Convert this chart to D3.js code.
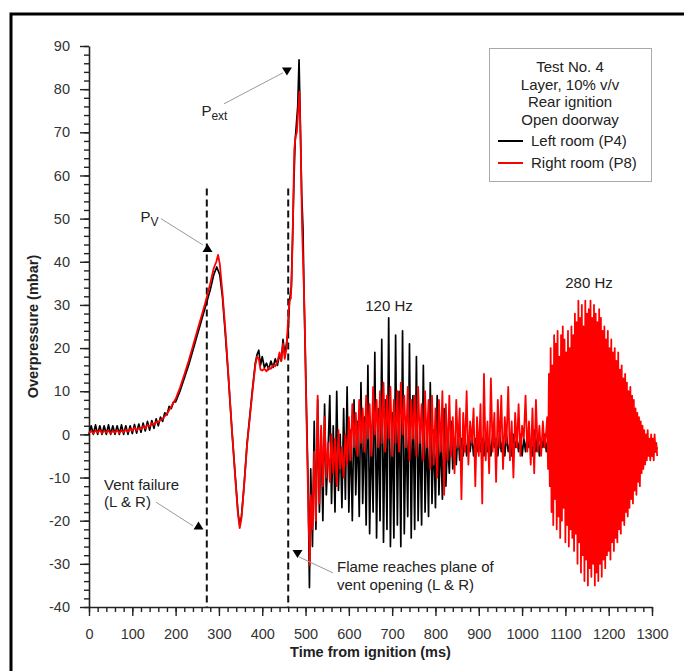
<!doctype html>
<html>
<head>
<meta charset="utf-8">
<style>
  body { margin: 0; background: #fff; }
  text { font-family: "Liberation Sans", Arial, sans-serif; fill: #222; }
  .axis path, .axis line { stroke: #222; }
  .axis text { font-size: 14.5px; fill: #333; }
</style>
<script src="https://d3js.org/d3.v7.min.js"></script>
</head>
<body>
<svg width="684" height="671"></svg>
<script>
// ---- data ----
var xTicks = [0, 100, 200, 300, 400, 500, 600, 700, 800, 900, 1000, 1100, 1200, 1300];
var yTicks = [-40, -30, -20, -10, 0, 10, 20, 30, 40, 50, 60, 70, 80, 90];

// Left room (P4), smooth part up to the first minimum
var p4Time = [0, 5, 10, 15, 20, 25, 30, 35, 40, 45, 50, 55, 60, 65, 70, 75, 80, 85, 90, 95,
  100, 105, 110, 115, 120, 125, 130, 135, 140, 145, 150, 155, 160, 165, 170, 175, 180, 185, 190, 195,
  200, 210, 220, 230, 240, 250, 260, 270, 280, 288, 295, 302, 308, 315, 322, 330, 338, 344, 348, 352,
  358, 365, 372, 378, 384, 388, 392, 396, 400, 405, 410, 415, 420, 425, 430, 435, 440, 444, 448, 452,
  456, 460, 463, 467, 470, 473, 476, 479, 482, 485, 488, 491, 494, 497, 500, 503, 506, 509];
var p4Val = [0, 2, 0, 2.2, 0, 2, 0, 2, 0, 2.2, 0, 2, 0, 2, 0, 2.2, 0, 2, 0, 2,
  0.2, 2.3, 0.3, 2.4, 0.5, 2.6, 0.8, 3, 1, 3.2, 1.4, 3.6, 2, 4, 3, 5, 4.5, 6.5, 6, 7.5,
  7.5, 10, 13, 16, 19.5, 23, 26.5, 30, 33.5, 37, 38.8, 37, 32, 23, 13, 1, -10, -18, -21, -19,
  -12, -2, 5, 11, 16.5, 18.5, 19.5, 16, 18, 15.5, 16.5, 15, 17, 15.5, 17.5, 16, 18.5, 17, 22, 18.5,
  21, 24, 31, 34, 45, 58, 68, 72, 76, 86.8, 72, 56, 48, 30, 16, 2, -12, -35.5];

// Right room (P8), smooth part up to the first minimum
var p8Time = [0, 5, 10, 15, 20, 25, 30, 35, 40, 45, 50, 55, 60, 65, 70, 75, 80, 85, 90, 95,
  100, 105, 110, 115, 120, 125, 130, 135, 140, 145, 150, 155, 160, 165, 170, 175, 180, 185, 190, 195,
  200, 210, 220, 230, 240, 250, 260, 270, 280, 288, 294, 298, 302, 308, 315, 322, 330, 338, 344, 348,
  352, 358, 365, 372, 378, 384, 388, 392, 396, 400, 405, 410, 415, 420, 425, 430, 435, 440, 444, 448,
  452, 456, 460, 463, 466, 468, 471, 474, 477, 480, 483, 486, 489, 492, 495, 498, 501, 504, 507, 510];
var p8Val = [0.3, 0.8, 0.2, 0.9, 0.4, 1, 0.3, 0.8, 0.5, 0.9, 0.2, 0.8, 0.4, 1, 0.3, 0.9, 0.5, 1.2, 0.6, 1.3,
  0.8, 1.6, 0.9, 1.5, 1.2, 1.9, 1.4, 2.2, 1.8, 2.6, 2.2, 2.9, 2.8, 3.4, 3.6, 4.2, 4.8, 5.6, 6.4, 7.4,
  8.2, 10.8, 13.8, 17, 20.5, 24, 27.5, 31, 35, 38.5, 40, 41.6, 39.5, 33, 24, 13.5, 1, -10.5, -18.5, -21.7,
  -19.5, -12, -2.5, 4.5, 10.5, 16, 18, 17.5, 15, 14.8, 15.2, 14.6, 15.5, 15.2, 16, 15.8, 16.8, 19, 17, 21,
  17.5, 20, 27, 31, 31.5, 36, 50, 66, 69, 70, 75, 79.4, 66, 48, 38, 27, 10, -5, -20, -30.3];

// oscillating part, one value every oscStep ms from oscStart
var oscStart = 512, oscStep = 4;
var p4Osc = [
  -8, -26, 3, -22, 8, -18, 1, -20, 7, -14,
  -4, 9, -16, 2, -18, 10, -13, 0, -17, 6,
  -15, 11, -18, 1, -20, 8, -14, 3, -19, 12,
  -16, 4, -21, 16, -23, 2, -18, 19, -24, 6,
  -20, 22, -25, 8, -22, 27, -26, 5, -24, 23,
  -21, 10, -26, 24, -23, 4, -19, 21, -24, 9,
  -22, 18, -20, 3, -21, 16, -18, 2, -19, 12,
  -16, 1, -17, 9, -14, 0, -15, 6, -12, -1,
  -9, 3, -8, -1, -7, 1, -6, -1, -5, 0,
  -5, -1, -4, 0, -5, -1, -4, 0, -4, -1,
  -5, 0, -4, -1, -5, 0, -3, -1, -5, 0,
  -4, -1, -5, 0, -4, -2, -5, 0, -3, -1,
  -4, 0, -5, -1, -4, 0, -3, -2, -5, 1,
  -4, 0, -5, -1, -3, 0, -4, -1, -5, 0,
  -4, -1, -5, 0, -3, -2, -4, 0, -5, -1,
  -3, 0, -4, -1, -5, 0, -4, -1, -3, 0,
  -5, -1, -4, 0, -3, -2, -5, 0, -4, -1,
  -3, 0, -5, -1, -4, 0, -3, -2, -4, 0,
  -5, -1, -4, 0, -3, -2, -5, -1, -4, 0,
  -4, -2, -5, -1, -3, -4, -2, -5, -3, -4,
  -3];
var p8Osc = [
  -14, -22, -4, -20, 9, -16, 2, -12, 4, -10,
  -2, -11, 0, -9, -1, -12, 1, -8, -3, -10,
  0, -7, 4, -6, 7, -3, 5, -5, 8, -2,
  6, -4, 9, -1, 7, -5, 11, 0, 8, -3,
  10, -2, 12, -4, 9, -1, 11, -5, 8, -2,
  10, -4, 12, 0, 9, -3, 11, -6, 8, -1,
  9, -5, 11, -2, 7, -6, 10, -3, 8, -8,
  9, -7, 6, -10, 8, -4, 10, -14, 7, -6,
  9, -5, 4, -9, 8, -3, 6, -15, 5, -4,
  10, -7, 3, -2, 6, -12, 4, -5, 7, -16,
  14, -6, 3, -9, 13, -4, 5, -11, 8, -3,
  9, -8, 4, -2, 11, -6, 3, -10, 5, -3,
  7, -5, 2, -1, 9, -4, 3, -7, 6, -9,
  8, -4, 2, -5, 3, -3, 1];

// 280 Hz burst in the right room, one value every 2 ms
var p8FastStart = 1058, p8FastStep = 2;
var p8Fast = [
  4, -8, 14, -12, 20, -18, 16, -21, 23, -15,
  21, -22, 24, -19, 18, -24, 23, -20, 25, -17,
  22, -25, 19, -21, 24, -26, 20, -22, 25, -24,
  23, -27, 28, -23, 26, -30, 31, -25, 27, -32,
  30, -28, 25, -34, 31, -29, 28, -35, 29, -31,
  31, -33, 27, -30, 30, -35, 28, -32, 26, -34,
  29, -30, 27, -33, 24, -29, 25, -31, 22, -28,
  24, -27, 20, -29, 22, -25, 19, -27, 20, -24,
  17, -25, 19, -22, 15, -23, 16, -20, 13, -21,
  14, -18, 12, -19, 10, -17, 11, -15, 9, -16,
  8, -13, 6, -14, 5, -11, 4, -12, 3, -9,
  2, -8, 1, -7, 0, -6, 1, -5, -1, -6,
  0, -5, -1, -6, 0, -4, -2, -5];

var ventFailure = 272, flamePlane = 460;

// ---- build series ----
function pairs(ts, vs) { return ts.map(function (t, i) { return [t, vs[i]]; }); }
function stepped(t0, dt, vs) { return vs.map(function (v, i) { return [t0 + i * dt, v]; }); }

var p4 = pairs(p4Time, p4Val).concat(stepped(oscStart, oscStep, p4Osc));
var p8 = pairs(p8Time, p8Val).concat(stepped(oscStart, oscStep, p8Osc))
  .concat(stepped(p8FastStart, p8FastStep, p8Fast));

// ---- chart ----
var svg = d3.select("svg");
var marginLeft = 89, marginTop = 46, width = 563, height = 561;

var x = d3.scaleLinear().domain([0, 1300]).range([0, width]);
var y = d3.scaleLinear().domain([-40, 90]).range([height, 0]);
var plain = function (d) { return String(d); };   // keep hyphen minus like the original

// frame around the figure
svg.append("path")
  .attr("d", "M11,671 V14 H684")
  .attr("fill", "none")
  .attr("stroke", "#000")
  .attr("stroke-width", 3);

var g = svg.append("g").attr("transform", "translate(" + marginLeft + "," + marginTop + ")");

// minor ticks
g.append("g").attr("class", "axis minor")
  .attr("transform", "translate(0," + height + ")")
  .call(d3.axisBottom(x).tickValues(d3.range(0, 1301, 20)).tickSize(5).tickSizeOuter(0).tickFormat(""))
  .call(function (s) { s.select(".domain").remove(); });
g.append("g").attr("class", "axis minor")
  .call(d3.axisLeft(y).tickValues(d3.range(-40, 91, 2)).tickSize(5).tickSizeOuter(0).tickFormat(""))
  .call(function (s) { s.select(".domain").remove(); });

// major ticks
g.append("g").attr("class", "axis")
  .attr("transform", "translate(0," + height + ")")
  .call(d3.axisBottom(x).tickValues(xTicks).tickSize(9).tickSizeOuter(0).tickPadding(13).tickFormat(plain))
  .call(function (s) { s.select(".domain").attr("stroke-width", 1.6); });
g.append("g").attr("class", "axis")
  .call(d3.axisLeft(y).tickValues(yTicks).tickSize(9).tickSizeOuter(0).tickPadding(10).tickFormat(plain))
  .call(function (s) { s.select(".domain").attr("stroke-width", 1.6); });
g.selectAll(".axis line").attr("stroke-width", 1.4);

// axis titles
svg.append("text")
  .attr("x", marginLeft + width / 2)
  .attr("y", 657)
  .attr("text-anchor", "middle")
  .attr("font-size", "14.5px")
  .attr("font-weight", "bold")
  .text("Time from ignition (ms)");
svg.append("text")
  .attr("transform", "translate(38," + (marginTop + height / 2) + ") rotate(-90)")
  .attr("text-anchor", "middle")
  .attr("font-size", "14.5px")
  .attr("font-weight", "bold")
  .text("Overpressure (mbar)");

// dashed markers
[ventFailure, flamePlane].forEach(function (t) {
  g.append("line")
    .attr("x1", x(t)).attr("x2", x(t))
    .attr("y1", y(57)).attr("y2", y(-40))
    .attr("stroke", "#111")
    .attr("stroke-width", 2)
    .attr("stroke-dasharray", "7,4");
});

// traces
var line = d3.line().x(function (d) { return x(d[0]); }).y(function (d) { return y(d[1]); });
g.append("path").datum(p4)
  .attr("d", line)
  .attr("fill", "none")
  .attr("stroke", "#000")
  .attr("stroke-width", 1.7)
  .attr("stroke-linejoin", "round");
g.append("path").datum(p8)
  .attr("d", line)
  .attr("fill", "none")
  .attr("stroke", "#ff0000")
  .attr("stroke-width", 1.8)
  .attr("stroke-linejoin", "round");

// annotations: pointer lines and triangles
function pointer(fromT, fromV, toT, toV, tipT, tipV, down) {
  g.append("line")
    .attr("x1", x(fromT)).attr("y1", y(fromV))
    .attr("x2", x(toT)).attr("y2", y(toV))
    .attr("stroke", "#999")
    .attr("stroke-width", 1);
  var cx = x(tipT), cy = y(tipV);
  var d = down
    ? "M" + (cx - 5) + "," + (cy - 4) + "L" + (cx + 5) + "," + (cy - 4) + "L" + cx + "," + (cy + 4) + "Z"
    : "M" + (cx - 5) + "," + (cy + 4) + "L" + (cx + 5) + "," + (cy + 4) + "L" + cx + "," + (cy - 4) + "Z";
  g.append("path").attr("d", d).attr("fill", "#000");
}
pointer(311.7, 76.6, 448, 83.8, 457, 84.1, true);
pointer(166, 50.0, 263, 43.9, 273.6, 43.2, false);
pointer(154.7, -15.7, 240, -21.2, 252.8, -21.1, false);
pointer(563.4, -32.1, 484.9, -28.4, 481.4, -27.7, true);

function label(t, v, str, anchor) {
  return g.append("text")
    .attr("x", x(t)).attr("y", y(v))
    .attr("text-anchor", anchor || "start")
    .attr("font-size", "15px")
    .text(str);
}
var pe = label(259.6, 73.8, "P");
pe.append("tspan").attr("font-size", "12px").attr("dy", 4).text("ext");
var pv = label(118.8, 49.2, "P");
pv.append("tspan").attr("font-size", "12px").attr("dy", 4).text("V");
label(34.6, -12.9, "Vent failure");
label(34.6, -16.8, "(L & R)");
label(572.6, -31.9, "Flame reaches plane of");
label(572.6, -36.1, "vent opening (L & R)");
label(692.7, 28.6, "120 Hz", "middle");
label(1154.5, 33.9, "280 Hz", "middle");

// legend box
var lg = svg.append("g");
lg.append("rect")
  .attr("x", 489.5).attr("y", 48.5)
  .attr("width", 162).attr("height", 133)
  .attr("fill", "#fff")
  .attr("stroke", "#aaa")
  .attr("stroke-width", 1);
var headLines = ["Test No. 4", "Layer, 10% v/v", "Rear ignition", "Open doorway"];
headLines.forEach(function (s, i) {
  lg.append("text")
    .attr("x", 570).attr("y", 72 + i * 17.5)
    .attr("text-anchor", "middle")
    .attr("font-size", "15px")
    .text(s);
});
var legendItems = [
  { name: "Left room (P4)", color: "#000" },
  { name: "Right room (P8)", color: "#ff0000" }
];
legendItems.forEach(function (d, i) {
  var yy = 141 + i * 22;
  lg.append("line")
    .attr("x1", 498).attr("x2", 523)
    .attr("y1", yy).attr("y2", yy)
    .attr("stroke", d.color)
    .attr("stroke-width", 2);
  lg.append("text")
    .attr("x", 531).attr("y", yy + 5)
    .attr("font-size", "15px")
    .text(d.name);
});
</script>
</body>
</html>
